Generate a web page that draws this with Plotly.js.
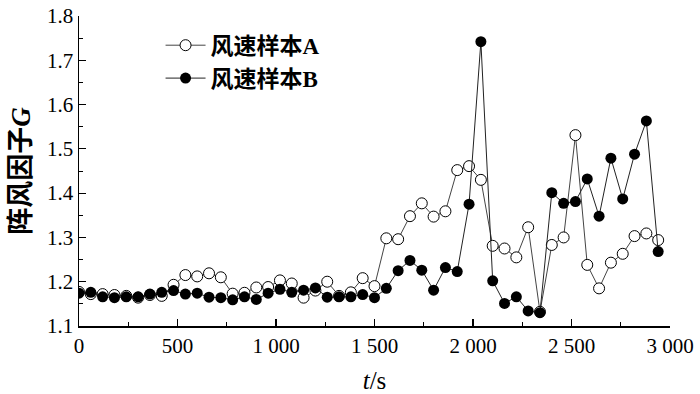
<!DOCTYPE html>
<html>
<head>
<meta charset="utf-8">
<script src="https://cdn.plot.ly/plotly-3.0.1.min.js"></script>
<style>html,body{margin:0;padding:0;background:#fff;}#chart{width:700px;height:394px;}</style>
</head>
<body>
<div id="chart"></div>
<script>
// time (s)
var timeS = [0,60,120,180,240,300,360,420,480,540,600,660,720,780,840,900,960,1020,1080,1140,
  1200,1260,1320,1380,1440,1500,1560,1620,1680,1740,1800,1860,1920,1980,2040,2100,2160,2220,2280,2340,
  2400,2460,2520,2580,2640,2700,2760,2820,2880,2940];
// gust factor G, wind speed sample A
var sampleA = [1.177,1.172,1.172,1.170,1.168,1.164,1.170,1.168,1.193,1.215,
  1.212,1.219,1.210,1.173,1.175,1.187,1.188,1.203,1.196,1.164,
  1.180,1.200,1.168,1.176,1.208,1.190,1.298,1.296,1.348,1.377,
  1.347,1.359,1.452,1.461,1.430,1.281,1.275,1.255,1.323,1.132,
  1.283,1.300,1.531,1.238,1.185,1.243,1.263,1.303,1.309,1.294];
// gust factor G, wind speed sample B
var sampleB = [1.174,1.176,1.166,1.164,1.166,1.166,1.172,1.176,1.180,1.172,
  1.174,1.165,1.164,1.159,1.166,1.160,1.174,1.183,1.176,1.181,
  1.186,1.165,1.166,1.166,1.171,1.164,1.185,1.225,1.248,1.226,
  1.181,1.232,1.223,1.375,1.742,1.202,1.151,1.166,1.134,1.130,
  1.401,1.377,1.381,1.432,1.348,1.479,1.387,1.488,1.563,1.268];
var seriesNames = ['风速样本A','风速样本B'];
var xTickVals = [0,500,1000,1500,2000,2500,3000];
var xTickText = ['0','500','1 000','1 500','2 000','2 500','3 000'];
var yTickVals = [1.1,1.2,1.3,1.4,1.5,1.6,1.7,1.8];
var yTickText = ['1.1','1.2','1.3','1.4','1.5','1.6','1.7','1.8'];

var serif = '"Liberation Serif", "Times New Roman", "Noto Sans CJK SC", serif';
var cjk = '"Liberation Serif", "Noto Sans CJK SC", serif';

var traces = [
  {x: timeS, y: sampleA, name: seriesNames[0], type: 'scatter', mode: 'lines+markers',
   line: {color: '#444', width: 1},
   marker: {symbol: 'circle', size: 11, color: '#fff', line: {width: 1, color: '#000'}}},
  {x: timeS, y: sampleB, name: seriesNames[1], type: 'scatter', mode: 'lines+markers',
   line: {color: '#222', width: 1},
   marker: {symbol: 'circle', size: 11, color: '#000'}}
];

var layout = {
  width: 700, height: 394,
  margin: {l: 79, r: 30, t: 16, b: 68},
  paper_bgcolor: '#fff', plot_bgcolor: '#fff',
  showlegend: true,
  legend: {x: 0.138, y: 0.975, xanchor: 'left', yanchor: 'top', bgcolor: 'rgba(0,0,0,0)',
    font: {family: cjk, size: 23, color: '#000', weight: 'bold'}, tracegroupgap: 0, itemwidth: 40},
  xaxis: {range: [0, 3000], tickvals: xTickVals, ticktext: xTickText,
    showgrid: false, zeroline: false, showline: true, linecolor: '#000', linewidth: 1.5,
    ticks: 'inside', ticklen: 7, tickwidth: 1.2, tickcolor: '#000',
    minor: {dtick: 250, ticks: 'inside', ticklen: 4, tickwidth: 1, tickcolor: '#000'},
    tickfont: {family: serif, size: 21, color: '#000'},
    title: {text: '<i>t</i>/s', font: {family: serif, size: 25, color: '#000'}, standoff: 17}},
  yaxis: {range: [1.1, 1.8], tickvals: yTickVals, ticktext: yTickText,
    showgrid: false, zeroline: false, showline: true, linecolor: '#000', linewidth: 1.5,
    ticks: 'inside', ticklen: 7, tickwidth: 1.2, tickcolor: '#000',
    minor: {dtick: 0.05, ticks: 'inside', ticklen: 4, tickwidth: 1, tickcolor: '#000'},
    tickfont: {family: serif, size: 21, color: '#000'},
    title: {text: '阵风因子<i>G</i>', font: {family: cjk, size: 27, color: '#000', weight: 'bold'}, standoff: 8}}
};
Plotly.newPlot('chart', traces, layout, {displayModeBar: false, staticPlot: true});
</script>
</body>
</html>
